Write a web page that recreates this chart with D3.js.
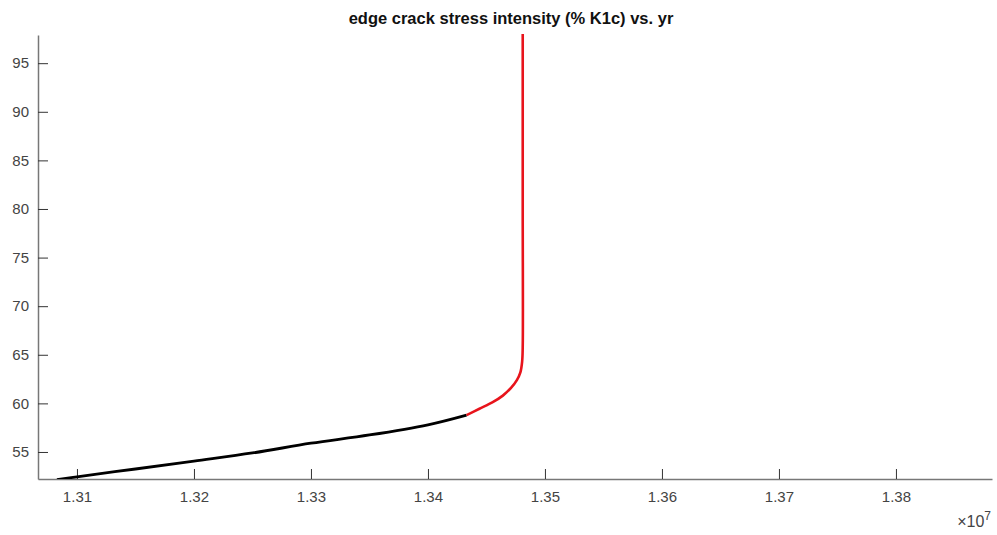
<!DOCTYPE html>
<html>
<head>
<meta charset="utf-8">
<script src="https://cdn.jsdelivr.net/npm/d3@7"></script>
<style>
  body { margin: 0; background: #fff; }
  text { font-family: "Liberation Sans", Arial, sans-serif; }
</style>
</head>
<body>
<svg width="997" height="535"></svg>
<script>
// 読み取った値 (x: yr, y: % K1c)
var yrBlack = [1.30829e7, 1.3100e7, 1.3150e7, 1.3200e7, 1.3250e7, 1.3300e7, 1.3350e7, 1.3400e7, 1.3433e7];
var kBlack  = [52.15, 52.45, 53.25, 54.07, 54.9, 55.9, 56.75, 57.8, 58.8];

var yrRed = [1.3433e7, 1.3444e7, 1.3455e7, 1.3464e7, 1.3471e7, 1.3476e7, 1.3479e7, 1.34805e7, 1.3481e7, 1.3481e7, 1.3481e7];
var kRed  = [58.8, 59.45, 60.1, 60.8, 61.6, 62.4, 63.2, 64.3, 65.8, 80, 98];

var xTicks = [1.31e7, 1.32e7, 1.33e7, 1.34e7, 1.35e7, 1.36e7, 1.37e7, 1.38e7];
var yTicks = [55, 60, 65, 70, 75, 80, 85, 90, 95];

var svg = d3.select("svg");
var mLeft = 38, mRight = 992, mTop = 35, mBottom = 479;

var x = d3.scaleLinear().domain([1.30667e7, 1.38821e7]).range([mLeft, mRight]);
var y = d3.scaleLinear().domain([52.22, 97.9]).range([mBottom, mTop]);

// 軸 (目盛りは内向き)
var xAxis = d3.axisBottom(x).tickValues(xTicks).tickSizeInner(-10).tickSizeOuter(0).tickPadding(12)
    .tickFormat(function(d) { return (d / 1e7).toFixed(2); });
var yAxis = d3.axisLeft(y).tickValues(yTicks).tickSizeInner(-10).tickSizeOuter(0).tickPadding(9);

var gx = svg.append("g").attr("transform", "translate(0," + mBottom + ")").call(xAxis);
var gy = svg.append("g").attr("transform", "translate(" + mLeft + ",0)").call(yAxis);

[gx, gy].forEach(function(g) {
  g.select(".domain").attr("stroke", "#777").attr("stroke-width", 1.5);
  g.selectAll(".tick line").attr("stroke", "#333").attr("stroke-width", 1);
  g.selectAll(".tick text").attr("fill", "#444").style("font-size", "15px");
});

svg.append("clipPath").attr("id", "clip").append("rect")
    .attr("x", mLeft).attr("y", mTop - 3).attr("width", mRight - mLeft).attr("height", mBottom - mTop + 3);

var line = d3.line()
    .x(function(d) { return x(d[0]); })
    .y(function(d) { return y(d[1]); })
    .curve(d3.curveCatmullRom.alpha(0.5));

var plot = svg.append("g").attr("clip-path", "url(#clip)");

plot.append("path")
    .datum(d3.zip(yrBlack, kBlack))
    .attr("d", line)
    .attr("fill", "none")
    .attr("stroke", "#000")
    .attr("stroke-width", 2.8);

plot.append("path")
    .datum(d3.zip(yrRed, kRed))
    .attr("d", line)
    .attr("fill", "none")
    .attr("stroke", "#e8141c")
    .attr("stroke-width", 2.6);

// タイトル
svg.append("text")
    .attr("x", 511)
    .attr("y", 24)
    .attr("text-anchor", "middle")
    .style("font-size", "16.5px")
    .style("font-weight", "bold")
    .attr("fill", "#111")
    .text("edge crack stress intensity (% K1c) vs. yr");

// ×10^7
var ex = svg.append("text")
    .attr("x", 991)
    .attr("y", 527)
    .attr("text-anchor", "end")
    .attr("fill", "#444")
    .style("font-size", "16px");
ex.append("tspan").text("\u00d710");
ex.append("tspan").attr("dy", -7).style("font-size", "12px").text("7");
</script>
</body>
</html>
